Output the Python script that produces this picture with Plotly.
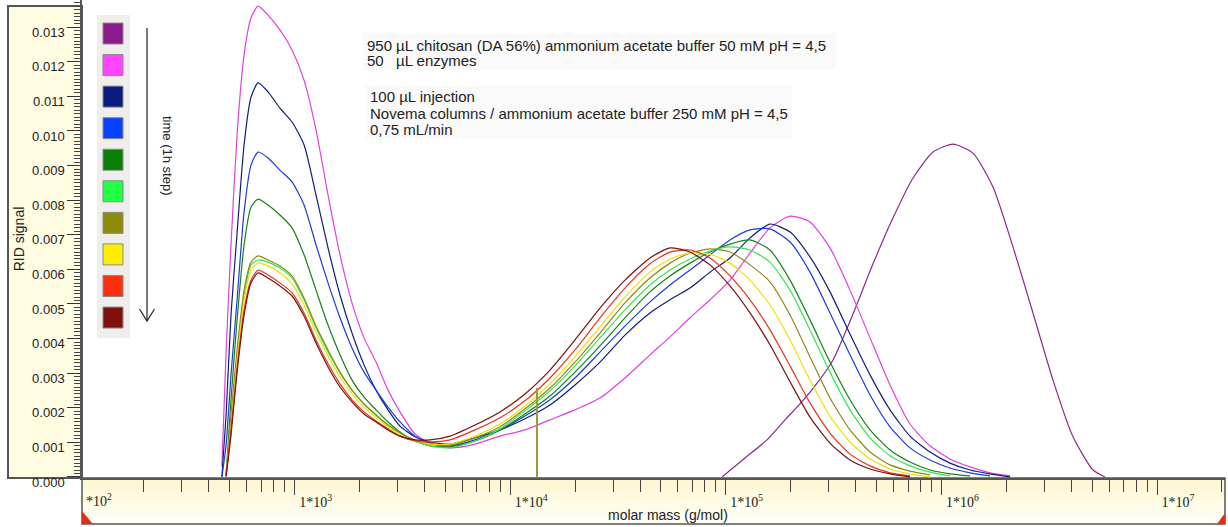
import plotly.graph_objects as go

# ---------------- data ----------------
molar_mass = [460, 481, 507, 541, 583, 628, 677, 753, 855, 973, 1106, 1257, 1429, 1624, 1846,
              2099, 2386, 2712, 3083, 3618, 4246, 5258, 6866, 8968, 11710, 15295, 19976, 26090,
              34075, 44500, 55110, 68230, 84490, 104600, 129500, 160300, 198600, 245800, 304300,
              376800, 466600, 577700, 715200, 885300, 1096000, 1357000, 1680000, 2080000]

sig_1h = [0.00030, 0.00360, 0.00670, 0.00990, 0.01220, 0.01327, 0.01361, 0.01335, 0.01292, 0.01234,
          0.01147, 0.01003, 0.00815, 0.00642, 0.00503, 0.00402, 0.00332, 0.00251, 0.00188, 0.00124,
          0.00098, 0.00084, 0.00095, 0.00118, 0.00136, 0.00165, 0.00194, 0.00228, 0.00286, 0.00353,
          0.00405, 0.00460, 0.00512, 0.00569, 0.00647, 0.00720, 0.00754, 0.00737, 0.00662, 0.00540,
          0.00402, 0.00266, 0.00153, 0.00090, 0.00052, 0.00029, 0.00012, 0.00003]
sig_2h = [0.0, 0.00179, 0.00468, 0.00705, 0.00960, 0.01098, 0.01139, 0.01113, 0.01066, 0.01026,
          0.00960, 0.00815, 0.00662, 0.00526, 0.00416, 0.00324, 0.00251, 0.00194, 0.00147, 0.00116,
          0.00101, 0.00095, 0.00113, 0.00136, 0.00168, 0.00208, 0.00266, 0.00332, 0.00410, 0.00474,
          0.00512, 0.00546, 0.00592, 0.00633, 0.00691, 0.00731, 0.00708, 0.00636, 0.00535, 0.00413,
          0.00295, 0.00194, 0.00118, 0.00072, 0.00040, 0.00020, 0.00009, 0.0]
sig_3h = [0.0, 0.00092, 0.00295, 0.00512, 0.00766, 0.00902, 0.00939, 0.00922, 0.00887, 0.00853,
          0.00786, 0.00671, 0.00561, 0.00460, 0.00373, 0.00303, 0.00251, 0.00202, 0.00159, 0.00118,
          0.00098, 0.00090, 0.00107, 0.00136, 0.00176, 0.00223, 0.00286, 0.00361, 0.00436, 0.00506,
          0.00555, 0.00598, 0.00642, 0.00685, 0.00714, 0.00717, 0.00679, 0.00592, 0.00474, 0.00353,
          0.00237, 0.00145, 0.00084, 0.00049, 0.00026, 0.00012, 0.00003, None]
sig_4h = [None, 0.00005, 0.00223, 0.00454, 0.00671, 0.00780, 0.00803, 0.00786, 0.00757, 0.00720,
          0.00642, 0.00540, 0.00439, 0.00353, 0.00280, 0.00231, 0.00194, 0.00159, 0.00130, 0.00104,
          0.00090, 0.00087, 0.00104, 0.00136, 0.00182, 0.00234, 0.00303, 0.00379, 0.00460, 0.00535,
          0.00581, 0.00618, 0.00650, 0.00673, 0.00685, 0.00656, 0.00569, 0.00454, 0.00332, 0.00223,
          0.00136, 0.00078, 0.00043, 0.00020, 0.00009, 0.00003, None, None]
sig_5h = [None, 0.00004, 0.00165, 0.00353, 0.00526, 0.00613, 0.00627, 0.00621, 0.00604, 0.00575,
          0.00512, 0.00431, 0.00361, 0.00301, 0.00251, 0.00211, 0.00179, 0.00150, 0.00127, 0.00104,
          0.00090, 0.00084, 0.00104, 0.00139, 0.00191, 0.00249, 0.00321, 0.00402, 0.00483, 0.00555,
          0.00598, 0.00630, 0.00653, 0.00665, 0.00656, 0.00621, 0.00540, 0.00425, 0.00303, 0.00194,
          0.00113, 0.00061, 0.00032, 0.00014, 0.00003, None, None, None]
sig_6h = [None, 0.00006, 0.00179, 0.00367, 0.00540, 0.00621, 0.00639, 0.00627, 0.00610, 0.00581,
          0.00517, 0.00436, 0.00367, 0.00303, 0.00251, 0.00211, 0.00179, 0.00150, 0.00127, 0.00107,
          0.00095, 0.00092, 0.00113, 0.00145, 0.00197, 0.00257, 0.00332, 0.00416, 0.00503, 0.00575,
          0.00618, 0.00647, 0.00659, 0.00650, 0.00613, 0.00564, 0.00468, 0.00347, 0.00228, 0.00136,
          0.00072, 0.00035, 0.00017, 0.00006, None, None, None, None]
sig_7h = [None, 0.00003, 0.00150, 0.00338, 0.00512, 0.00598, 0.00618, 0.00610, 0.00590, 0.00558,
          0.00497, 0.00419, 0.00350, 0.00289, 0.00240, 0.00202, 0.00171, 0.00145, 0.00121, 0.00104,
          0.00095, 0.00095, 0.00118, 0.00153, 0.00205, 0.00269, 0.00347, 0.00434, 0.00520, 0.00592,
          0.00630, 0.00647, 0.00644, 0.00618, 0.00569, 0.00497, 0.00396, 0.00280, 0.00176, 0.00101,
          0.00052, 0.00023, 0.00009, 0.0, None, None, None, None]
sig_8h = [None, 0.00002, 0.00136, 0.00315, 0.00483, 0.00569, 0.00598, 0.00584, 0.00561, 0.00532,
          0.00474, 0.00396, 0.00327, 0.00269, 0.00223, 0.00188, 0.00162, 0.00139, 0.00118, 0.00104,
          0.00101, 0.00107, 0.00136, 0.00171, 0.00220, 0.00286, 0.00367, 0.00460, 0.00546, 0.00616,
          0.00650, 0.00656, 0.00633, 0.00581, 0.00512, 0.00425, 0.00321, 0.00214, 0.00127, 0.00066,
          0.00032, 0.00012, 0.00003, None, None, None, None, None]
sig_9h = [None, 0.00001, 0.00121, 0.00303, 0.00468, 0.00561, 0.00590, 0.00575, 0.00552, 0.00523,
          0.00465, 0.00387, 0.00318, 0.00260, 0.00217, 0.00182, 0.00159, 0.00136, 0.00118, 0.00107,
          0.00107, 0.00118, 0.00150, 0.00188, 0.00240, 0.00309, 0.00396, 0.00488, 0.00569, 0.00633,
          0.00662, 0.00650, 0.00613, 0.00552, 0.00474, 0.00382, 0.00275, 0.00173, 0.00098, 0.00049,
          0.00023, 0.00009, 0.0, None, None, None, None, None]

chitosan_mass = [96000, 122800, 155300, 188200, 220900, 259300, 314200, 389000, 481700, 596500,
                 738600, 914100, 1132000, 1401000, 1735000, 2148000, 2659000, 3293000, 4077000,
                 5049000, 5739000]
chitosan_signal = [0.0, 0.00055, 0.00107, 0.00165, 0.00211, 0.00263, 0.00338, 0.00471, 0.00616,
                   0.00749, 0.00864, 0.00939, 0.00962, 0.00936, 0.00838, 0.00665, 0.00474, 0.00280,
                   0.00116, 0.00020, 0.0]

marker_mass = [13310, 13310]
marker_signal = [0.0, 0.00257]

decade_ticks = [1e2, 1e3, 1e4, 1e5, 1e6, 1e7]
decade_labels = ["1*10<sup>2</sup>", "1*10<sup>3</sup>", "1*10<sup>4</sup>",
                 "1*10<sup>5</sup>", "1*10<sup>6</sup>", "1*10<sup>7</sup>"]
minor_ticks = [m * d for d in [1e2, 1e3, 1e4, 1e5, 1e6, 1e7] for m in range(2, 10)]

# ---------------- styles ----------------
series = [sig_1h, sig_2h, sig_3h, sig_4h, sig_5h, sig_6h, sig_7h, sig_8h, sig_9h]
line_colors = ["#E040E0", "#101E7A", "#1A3CE0", "#178017", "#33E64D",
               "#8C8A14", "#F0E000", "#E8341A", "#7A1010"]
chitosan_color = "#8B2A8B"
swatch_colors = ["#8B1A8B", "#FF44FF", "#0A1A80", "#0A40FF", "#0A800A",
                 "#22FF44", "#8F8B0A", "#FFEE00", "#FF3010", "#801010"]

W, H = 1228, 527
L, R, T, B = 82, 3, 0, 49
PW, PH = W - L - R, H - T - B


def px(x):
    return (x - L) / PW


def py(y):
    return (T + PH - y) / PH


fig = go.Figure()
fig.add_trace(go.Scatter(x=chitosan_mass, y=chitosan_signal, mode="lines",
                         line=dict(color=chitosan_color, width=1.2, shape="spline", smoothing=0.6),
                         hoverinfo="skip", showlegend=False))
for sig, col in zip(series, line_colors):
    fig.add_trace(go.Scatter(x=molar_mass, y=sig, mode="lines",
                             line=dict(color=col, width=1.2, shape="spline", smoothing=0.6),
                             hoverinfo="skip", showlegend=False))
fig.add_trace(go.Scatter(x=marker_mass, y=marker_signal, mode="lines",
                         line=dict(color="#9A9A3A", width=2), hoverinfo="skip", showlegend=False))

shapes = []
# y ruler panel
shapes.append(dict(type="rect", xref="paper", yref="paper", x0=px(8), x1=px(82), y0=py(478), y1=py(6),
                   fillcolor="#FFFCE2", line=dict(color="#555555", width=2), layer="below"))
# x ruler panel (gradient bands)
bands = [(478, 490, "#FDF8D3"), (490, 502, "#FEFADD"), (502, 514, "#FFFCE9"), (514, 524, "#FFFEF5")]
for y0, y1, c in bands:
    shapes.append(dict(type="rect", xref="paper", yref="paper", x0=px(82), x1=px(1225),
                       y0=py(y1), y1=py(y0), fillcolor=c, line=dict(width=0), layer="below"))
shapes.append(dict(type="rect", xref="paper", yref="paper", x0=px(82), x1=px(1225), y0=py(524), y1=py(478),
                   fillcolor="rgba(0,0,0,0)", line=dict(color="#555555", width=1.5), layer="below"))
# red corner triangles
shapes.append(dict(type="path", xref="paper", yref="paper",
                   path=f"M{px(82)},{py(511)} L{px(82)},{py(524)} L{px(93)},{py(524)} Z",
                   fillcolor="#E0301C", line=dict(width=0)))
shapes.append(dict(type="path", xref="paper", yref="paper",
                   path=f"M{px(1225)},{py(513)} L{px(1225)},{py(524)} L{px(1217)},{py(524)} Z",
                   fillcolor="#E0301C", line=dict(width=0)))
# legend panel with swatches
shapes.append(dict(type="rect", xref="paper", yref="paper", x0=px(97), x1=px(130), y0=py(338), y1=py(15),
                   fillcolor="#EFEEEA", line=dict(width=0), layer="below"))
for i, c in enumerate(swatch_colors):
    top = 23 + 31.56 * i
    shapes.append(dict(type="rect", xref="paper", yref="paper", x0=px(103), x1=px(123),
                       y0=py(top + 21), y1=py(top), fillcolor=c, line=dict(color="#8A8A8A", width=1)))
# time arrow
shapes.append(dict(type="line", xref="paper", yref="paper", x0=px(147), x1=px(147), y0=py(28), y1=py(321),
                   line=dict(color="#222222", width=1.2)))
shapes.append(dict(type="path", xref="paper", yref="paper",
                   path=f"M{px(139.5)},{py(309)} L{px(147)},{py(321)} L{px(154.5)},{py(309)}",
                   line=dict(color="#222222", width=1.2)))
# very faint boxes behind the text block
shapes.append(dict(type="rect", xref="paper", yref="paper", x0=px(363), x1=px(836), y0=py(70), y1=py(33),
                   fillcolor="#FAFAFA", line=dict(width=0), layer="below"))
shapes.append(dict(type="rect", xref="paper", yref="paper", x0=px(365), x1=px(792), y0=py(139), y1=py(85),
                   fillcolor="#FAFAFA", line=dict(width=0), layer="below"))

txt_font = dict(family="Liberation Sans, Arial, sans-serif", size=15, color="#222222")
annotations = []


def add_text(x, y, text, **kw):
    d = dict(x=px(x), y=py(y), xref="paper", yref="paper", text=text, showarrow=False,
             xanchor="left", yanchor="middle", font=txt_font)
    d.update(kw)
    annotations.append(d)


add_text(365, 45, "950")
add_text(394, 45, "µL chitosan (DA 56%) ammonium acetate buffer 50 mM pH = 4,5")
add_text(365, 61, "50")
add_text(394, 61, "µL enzymes")
add_text(368, 97, "100 µL injection")
add_text(368, 113, "Novema columns / ammonium acetate buffer 250 mM pH = 4,5")
add_text(368, 129, "0,75 mL/min")
annotations.append(dict(x=px(168), y=py(155), xref="paper", yref="paper", text="time (1h step)",
                        showarrow=False, textangle=90, xanchor="center", yanchor="middle",
                        font=dict(family="Liberation Sans, Arial, sans-serif", size=13, color="#222222")))
annotations.append(dict(x=px(668), y=py(515), xref="paper", yref="paper", text="molar mass (g/mol)",
                        showarrow=False, xanchor="center", yanchor="middle",
                        font=dict(family="Liberation Sans, Arial, sans-serif", size=14, color="#222222")))
annotations.append(dict(x=px(84), y=py(500), xref="paper", yref="paper", text="*10<sup>2</sup>",
                        showarrow=False, xanchor="left", yanchor="middle",
                        font=dict(family="Liberation Serif, serif", size=14, color="#222222")))

fig.update_layout(
    template="none",
    width=W, height=H,
    margin=dict(l=L, r=R, t=T, b=B, autoexpand=False),
    paper_bgcolor="white", plot_bgcolor="white",
    showlegend=False,
    xaxis=dict(type="log", range=[2.0139, 7.3154], showgrid=False, zeroline=False,
               showline=True, linecolor="#555555", linewidth=1.5, automargin=False,
               ticks="outside", ticklen=15, tickwidth=1.2, tickcolor="#444444",
               tickmode="array", tickvals=decade_ticks, ticktext=decade_labels,
               ticklabelshift=21, ticklabelstandoff=-5,
               tickfont=dict(family="Liberation Serif, serif", size=14, color="#222222"),
               minor=dict(tickmode="array", tickvals=minor_ticks, ticks="outside", ticklen=12,
                          tickwidth=1.2, tickcolor="#444444", showgrid=False)),
    yaxis=dict(range=[-0.00003, 0.013785], showgrid=False, zeroline=False,
               showline=True, linecolor="#555555", linewidth=1.5, automargin=False,
               ticks="outside", ticklen=13, tickwidth=1.2, tickcolor="#333333",
               tick0=0, dtick=0.001, tickformat=".3f", ticklabelshift=5,
               tickfont=dict(family="Liberation Sans, Arial, sans-serif", size=13, color="#222222"),
               minor=dict(tick0=0, dtick=0.0001, ticks="outside", ticklen=6, tickwidth=1,
                          tickcolor="#444444", showgrid=False),
               title=dict(text="RID signal", standoff=4,
                          font=dict(family="Liberation Sans, Arial, sans-serif", size=14, color="#222222"))),
    shapes=shapes,
    annotations=annotations,
)

fig.write_html("out.html")
